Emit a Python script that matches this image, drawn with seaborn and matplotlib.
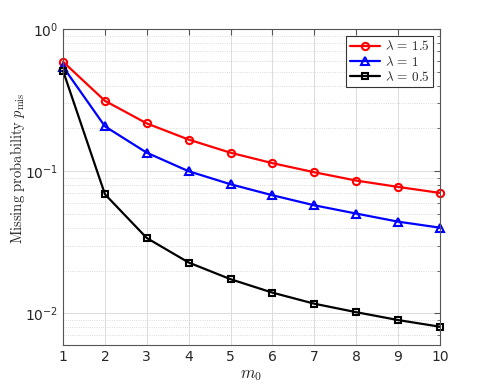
import numpy as np
import pandas as pd
import matplotlib
matplotlib.use("Agg")
import matplotlib.pyplot as plt
import seaborn as sns
from matplotlib.ticker import LogLocator, NullFormatter

m0 = [1, 2, 3, 4, 5, 6, 7, 8, 9, 10]
p_lam15 = [0.589, 0.313, 0.217, 0.167, 0.135, 0.114, 0.0984, 0.086, 0.0776, 0.0704]
p_lam1 = [0.543, 0.207, 0.135, 0.100, 0.081, 0.0678, 0.0576, 0.0504, 0.0442, 0.0401]
p_lam05 = [0.509, 0.0689, 0.0339, 0.0228, 0.0174, 0.0140, 0.0117, 0.0102, 0.00898, 0.00806]
labels = [r'$\lambda\,=\,1.5$', r'$\lambda\,=\,1$', r'$\lambda\,=\,0.5$']

sns.set_style("white")
plt.rcParams['font.family'] = ['DejaVu Sans']
plt.rcParams['mathtext.fontset'] = 'cm'

fig = plt.figure(figsize=(4.85, 3.88), dpi=100)
ax = fig.add_axes([0.130, 0.111, 0.777, 0.814])

series = [(p_lam15, 'red', 'o', 5.2, labels[0]),
          (p_lam1, 'blue', '^', 5.8, labels[1]),
          (p_lam05, 'black', 's', 4.2, labels[2])]
for vals, col, mk, ms, lab in series:
    df = pd.DataFrame({'m0': m0, 'p': vals})
    sns.lineplot(data=df, x='m0', y='p', ax=ax, color=col, marker=mk,
                 markersize=ms, markerfacecolor='none',
                 markeredgecolor=col, markeredgewidth=1.5, linewidth=1.6,
                 label=lab, clip_on=False)

ax.set_yscale('log')
ax.set_xlim(1, 10)
ax.set_ylim(0.006, 1)
ax.set_xticks(m0)
ax.set_yticks([1e-2, 1e-1, 1e0])
ax.yaxis.set_minor_locator(LogLocator(base=10, subs=np.arange(2, 10), numticks=20))
ax.yaxis.set_minor_formatter(NullFormatter())

ax.grid(True, which='major', color='#dcdcdc', linewidth=0.7, linestyle='-')
ax.grid(True, which='minor', axis='y', color='#d0d0d0', linewidth=0.6, linestyle=':')
ax.set_axisbelow(True)

for s in ax.spines.values():
    s.set_color('#555555')
    s.set_linewidth(0.8)
ax.tick_params(which='both', direction='in', top=True, right=True,
               colors='#555555', labelcolor='#262626', labelsize=10)
ax.tick_params(which='major', length=4)
ax.tick_params(which='minor', length=2.5)

ax.set_xlabel(r'$m_0$', fontsize=12, color='#262626', labelpad=1)
ax.set_ylabel(r'$\mathrm{Missing\ probability}\ p_{\mathrm{mis}}$', fontsize=10.5, color='#262626')
ax.yaxis.set_label_coords(-0.095, 0.56)

leg = ax.legend(loc='upper right', fontsize=9.5, frameon=True, fancybox=False,
                edgecolor='#333333', framealpha=1, handlelength=2.3,
                borderpad=0.25, labelspacing=0.1, handletextpad=0.4,
                borderaxespad=0, bbox_to_anchor=(0.982, 0.978))
leg.get_frame().set_linewidth(0.8)

fig.savefig('out.png', dpi=100)
